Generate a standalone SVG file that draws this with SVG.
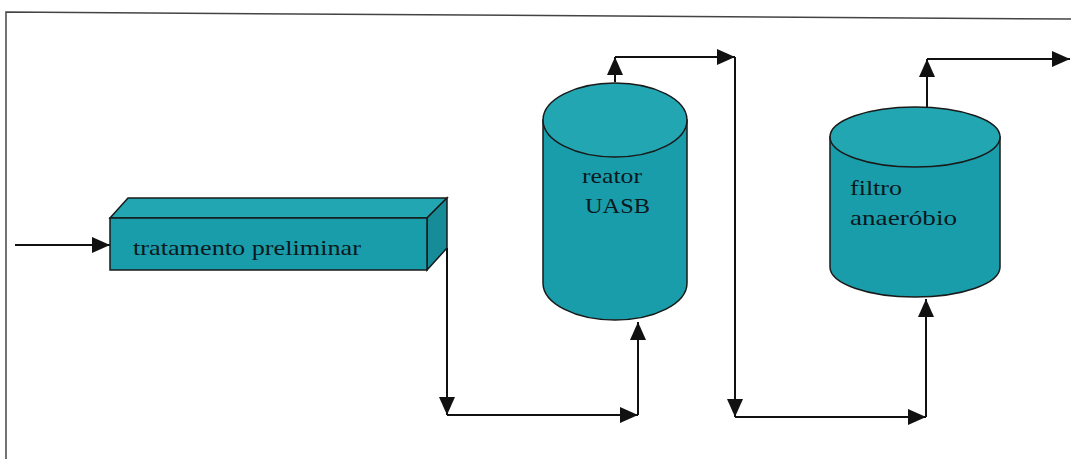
<svg xmlns="http://www.w3.org/2000/svg" width="1071" height="459" viewBox="0 0 1071 459">
<defs>
<style>
.frame{fill:none;stroke:#444;stroke-width:1.5}
.edge{fill:none;stroke:#111;stroke-width:2;marker-end:url(#arr)}
.body{fill:#1a9daa;stroke:#1a1a1a;stroke-width:1.5}
.top{fill:#22a6b2;stroke:#1a1a1a;stroke-width:1.5}
.side{fill:#168c98;stroke:#1a1a1a;stroke-width:1.5}
.lbl{font-family:"Liberation Serif","Times New Roman",serif;font-size:22px;fill:#0b1820}
</style>
<marker id="arr" markerUnits="userSpaceOnUse" markerWidth="20" markerHeight="18" refX="18" refY="8" orient="auto" viewBox="0 0 20 18">
<path d="M0,0 L18,8 L0,16 Z" fill="#111"/>
</marker>
</defs>
<rect width="1071" height="459" fill="#fff"/>
<path class="frame" d="M6,459 V12 L1071,19"/>
<g id="connectors">
<path class="edge" d="M15,245 H110"/>
<path class="edge" d="M447,248 V415"/>
<path class="edge" d="M447,415 H638"/>
<path class="edge" d="M638,415 V322"/>
<path class="edge" d="M615,82 V57"/>
<path class="edge" d="M615,57 H735"/>
<path class="edge" d="M735,57 V417"/>
<path class="edge" d="M735,417 H926"/>
<path class="edge" d="M926,417 V299"/>
<path class="edge" d="M927,107 V59"/>
<path class="edge" d="M927,59 H1070"/>
</g>
<g id="tratamento">
<polygon class="top" points="110,218 128,198 447,198 427,218"/>
<polygon class="side" points="427,218 447,198 447,248 427,270"/>
<rect class="body" x="110" y="218" width="317" height="52"/>
<text class="lbl" x="133" y="255" textLength="228" lengthAdjust="spacingAndGlyphs">tratamento preliminar</text>
</g>
<g id="uasb">
<path class="body" d="M543,120 V283 A72,37 0 0 0 687,283 V120 Z"/>
<ellipse class="top" cx="615" cy="120" rx="72" ry="37"/>
<text class="lbl" x="582" y="183" textLength="60" lengthAdjust="spacingAndGlyphs">reator</text>
<text class="lbl" x="585" y="213" textLength="65" lengthAdjust="spacingAndGlyphs">UASB</text>
</g>
<g id="filtro">
<path class="body" d="M830,137 V267 A85,30 0 0 0 1000,267 V137 Z"/>
<ellipse class="top" cx="915" cy="137" rx="85" ry="30"/>
<text class="lbl" x="850" y="195" textLength="52" lengthAdjust="spacingAndGlyphs">filtro</text>
<text class="lbl" x="850" y="225" textLength="107" lengthAdjust="spacingAndGlyphs">anaeróbio</text>
</g>
</svg>
